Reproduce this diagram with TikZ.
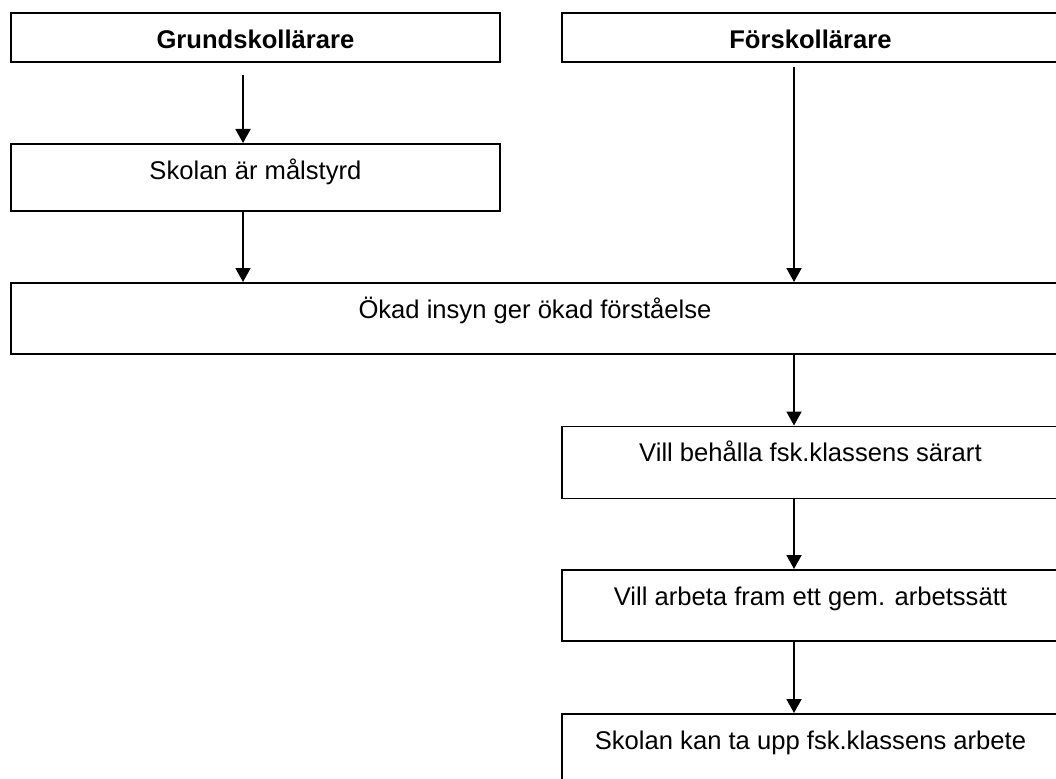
\documentclass[tikz,border=0pt]{standalone}
\usepackage{fontspec}
\setmainfont{Liberation Sans}
\usetikzlibrary{arrows.meta}
\newcommand{\diagfont}{\fontsize{25.6}{30}\selectfont}
\tikzset{
    font=\diagfont,
    >={Triangle[length=14pt, width=15pt]},
    % Boxes
    box/.style={rectangle, draw=black, line width=1.9pt, fill=white, inner sep=0pt,
                anchor=north west, minimum width=489pt, text height=35.5pt},
    wide/.style={box, minimum width=497pt},
    head/.style={box, font=\diagfont\bfseries},
    % Flow
    flow/.style={->, line width=1.9pt, black}
}
\begin{document}
\begin{tikzpicture}[x=1pt, y=-1pt]

\useasboundingbox (0,0) rectangle (1056,778);

\coordinate (colL) at (243,0);
\coordinate (colR) at (794,0);

\node[head, text depth=13pt] (grund) at (10,12.5) {Grundskollärare};
\node[head, minimum width=497pt, text depth=13pt] (forsk) at (561,12.5) {Förskollärare};
\node[box, text depth=31.5pt] (mal) at (10,143) {Skolan är målstyrd};
\node[box, minimum width=1048pt, text depth=35.5pt] (insyn) at (10,282) {Ökad insyn ger ökad förståelse};
\node[wide, text depth=36.5pt] (sarart) at (561,425.5) {Vill behålla fsk.klassens särart};
\node[wide, text depth=35.5pt] (gemensam) at (561,569) {Vill arbeta fram ett gem. arbetssätt};
\node[wide, text depth=54.5pt] (arbete) at (561,713) {Skolan kan ta upp fsk.klassens arbete};

\draw[flow, shorten <=12pt] (grund.south -| colL) -- (mal.north -| colL);
\draw[flow] (mal.south -| colL) -- (insyn.north -| colL);
\draw[flow, shorten <=4pt] (forsk.south -| colR) -- (insyn.north -| colR);
\draw[flow] (insyn.south -| colR) -- (sarart.north -| colR);
\draw[flow] (sarart.south -| colR) -- (gemensam.north -| colR);
\draw[flow] (gemensam.south -| colR) -- (arbete.north -| colR);

\end{tikzpicture}
\end{document}
